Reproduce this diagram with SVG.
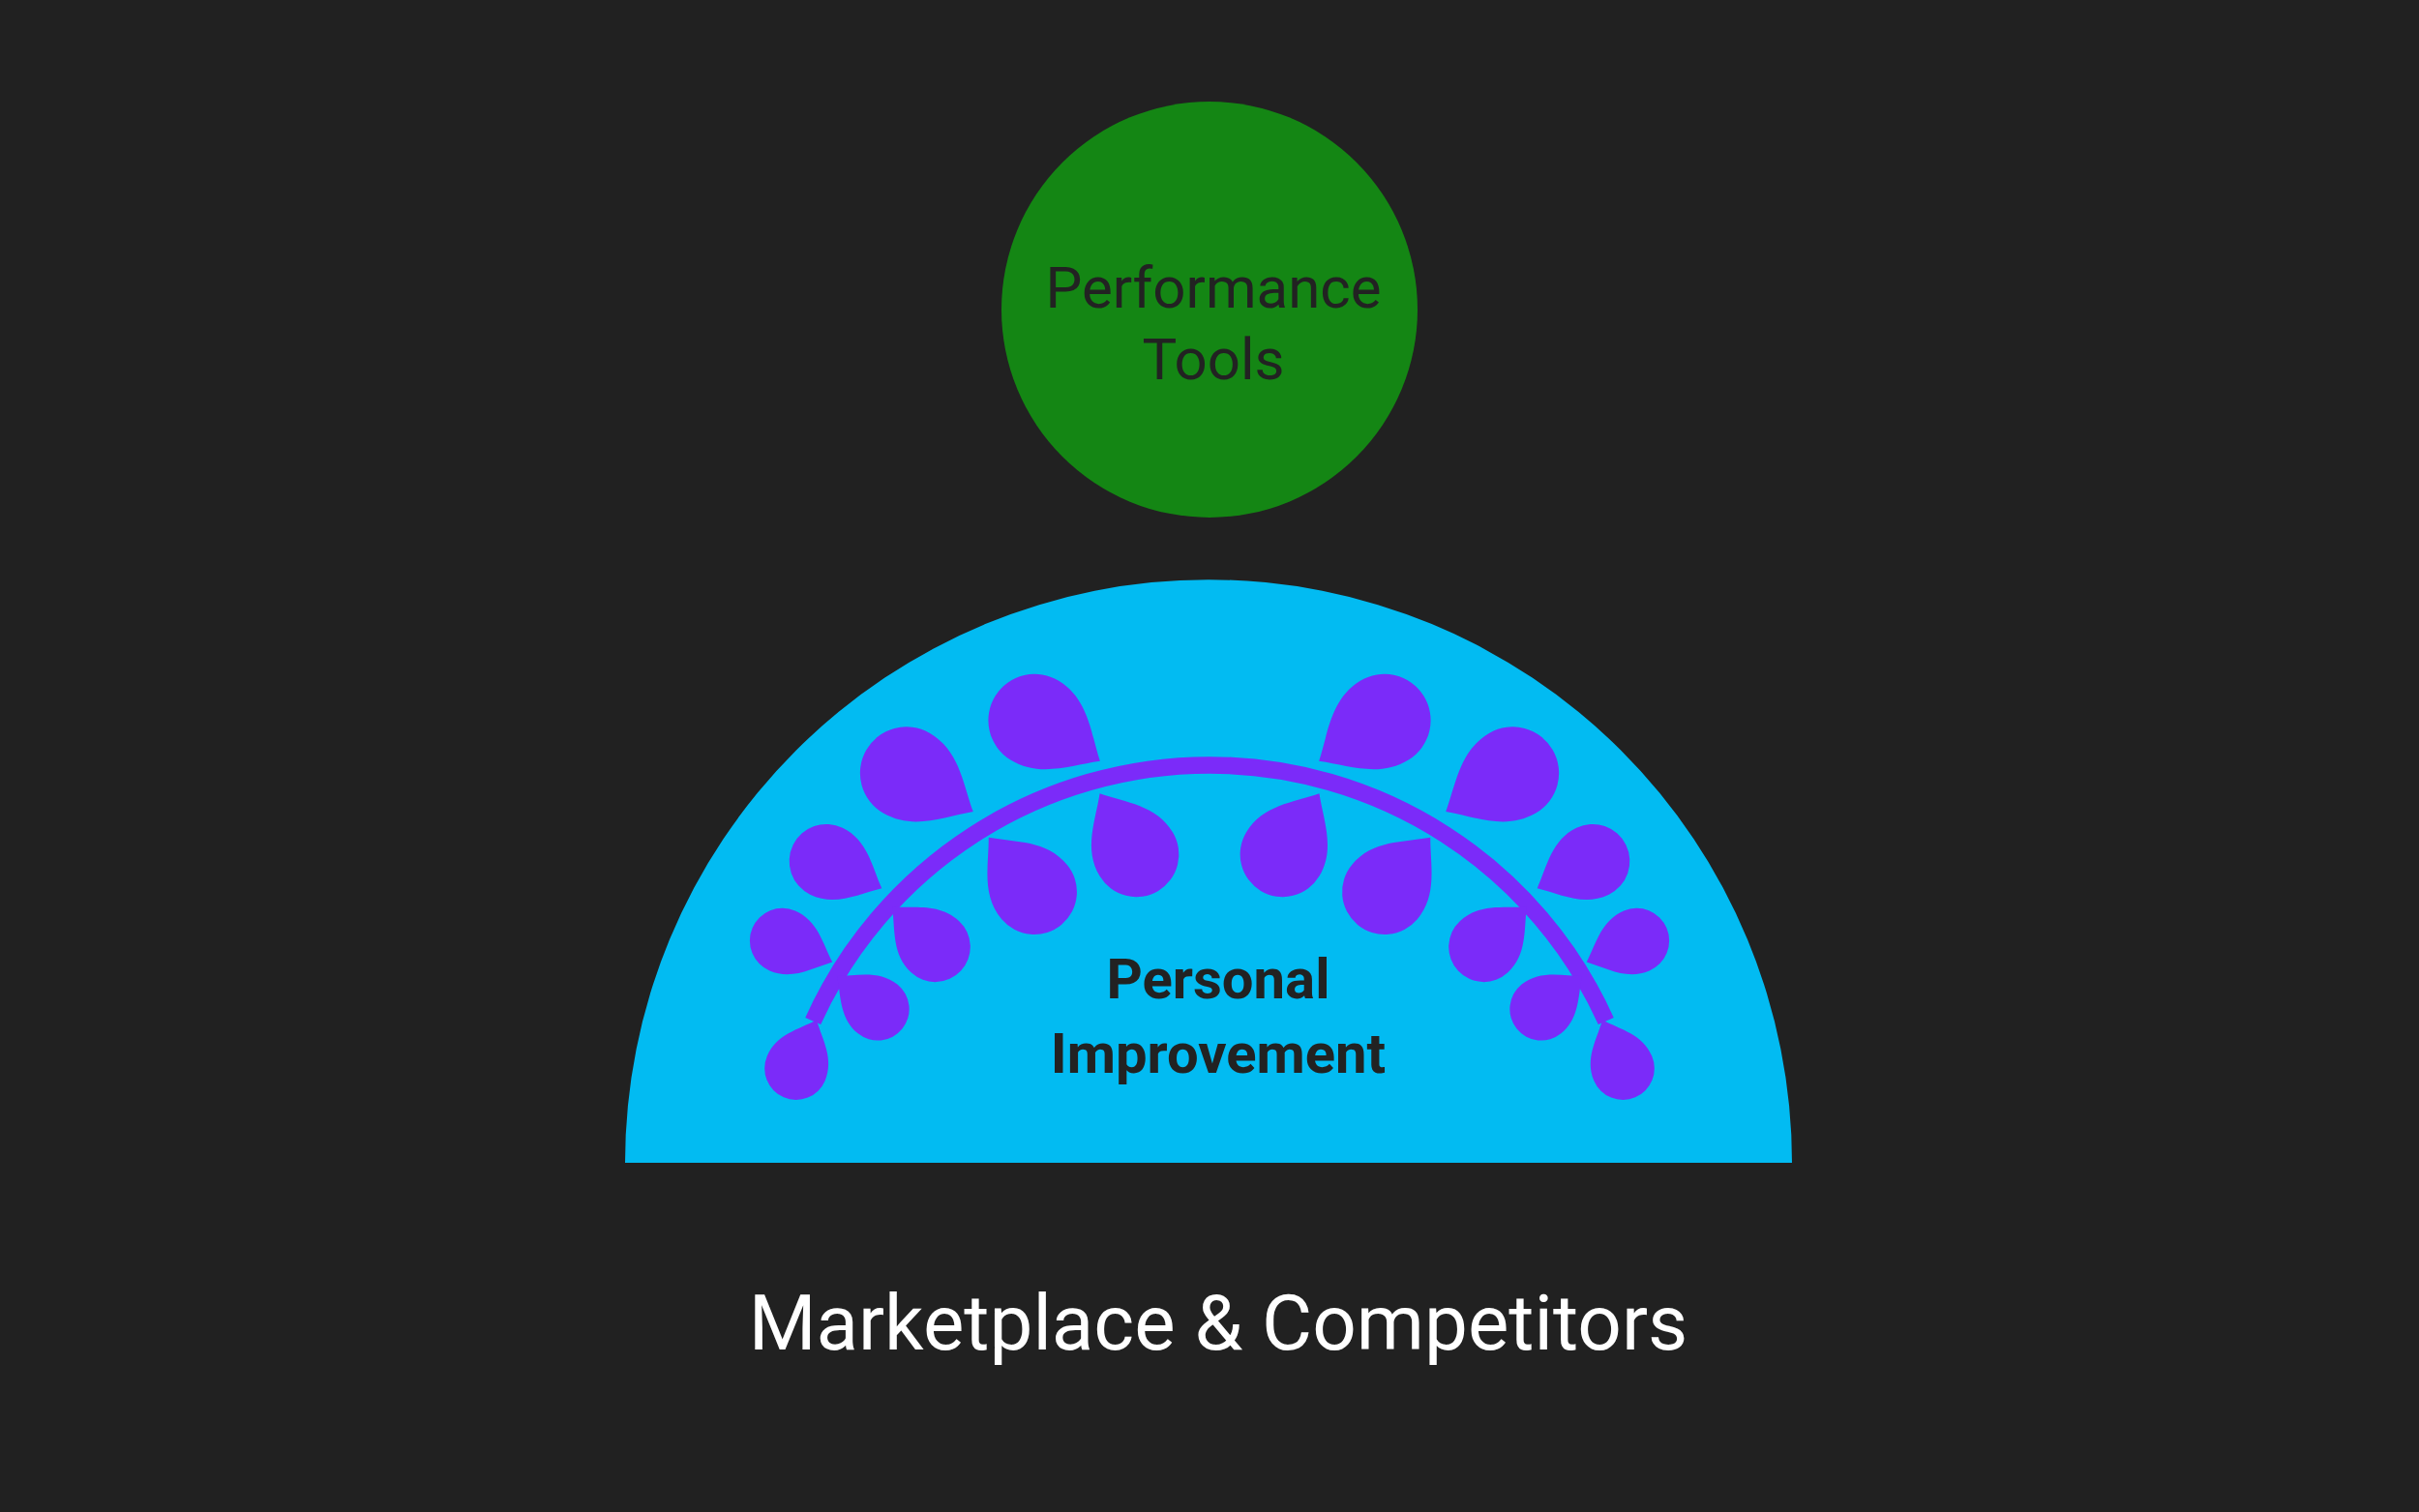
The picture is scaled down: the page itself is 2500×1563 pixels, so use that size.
<svg xmlns="http://www.w3.org/2000/svg" xmlns:xlink="http://www.w3.org/1999/xlink" width="2500" height="1563" viewBox="0 0 2500 1563">
<style>
.t{font-family:Roboto,"Liberation Sans",sans-serif;text-anchor:middle}
.leaf{fill:#7b2bf9}
</style>
<defs>
<path id="lf" d="M0,-34 C10,-22 24,-12 24,6 A24,24 0 1 1 -24,6 C-24,-12 -10,-22 0,-34 Z"/>
</defs>
<rect width="2500" height="1563" fill="#212121"/>
<g id="performance">
<circle cx="1250" cy="320" r="215" fill="#148614"/>
<text class="t" x="1254" y="318" font-size="60" fill="#222">Performance</text>
<text class="t" x="1254" y="392" font-size="60" fill="#222">Tools</text>
</g>
<g id="personal">
<path d="M646,1202 A603,603 0 0 1 1852,1202 Z" fill="#02bbf2"/>
<g transform="scale(1.5944)">
<path d="M527,662 A282,282 0 0 1 1041,662" fill="none" stroke="#7b2bf9" stroke-width="11"/>
<g class="leaf">
<use href="#lf" transform="translate(677,471) rotate(122) scale(1.25)"/>
<use href="#lf" transform="translate(594,505) rotate(120) scale(1.25)"/>
<use href="#lf" transform="translate(541,561) rotate(116) scale(1.0)"/>
<use href="#lf" transform="translate(512,612) rotate(113) scale(0.88)"/>
<use href="#lf" transform="translate(518,688) rotate(23) scale(0.85)"/>
<use href="#lf" transform="translate(565,651) rotate(-51) scale(0.85)"/>
<use href="#lf" transform="translate(602,610) rotate(-47) scale(0.95)"/>
<use href="#lf" transform="translate(666,573) rotate(-40) scale(1.15)"/>
<use href="#lf" transform="translate(733,548) rotate(-31) scale(1.15)"/>
<use href="#lf" transform="translate(891,471) rotate(-122) scale(1.25)"/>
<use href="#lf" transform="translate(974,505) rotate(-120) scale(1.25)"/>
<use href="#lf" transform="translate(1027,561) rotate(-116) scale(1.0)"/>
<use href="#lf" transform="translate(1056,612) rotate(-113) scale(0.88)"/>
<use href="#lf" transform="translate(1050,688) rotate(-23) scale(0.85)"/>
<use href="#lf" transform="translate(1003,651) rotate(51) scale(0.85)"/>
<use href="#lf" transform="translate(966,610) rotate(47) scale(0.95)"/>
<use href="#lf" transform="translate(902,573) rotate(40) scale(1.15)"/>
<use href="#lf" transform="translate(835,548) rotate(31) scale(1.15)"/>
</g>
</g>
<text class="t" x="1259" y="1032" font-size="58" font-weight="bold" fill="#222">Personal</text>
<text class="t" x="1259" y="1109" font-size="58" font-weight="bold" fill="#222">Improvement</text>
</g>
<g id="market">
<text class="t" x="1259" y="1395" font-size="80" fill="#fff">Marketplace &amp; Competitors</text>
</g>
<g id="connectors"/>
</svg>
